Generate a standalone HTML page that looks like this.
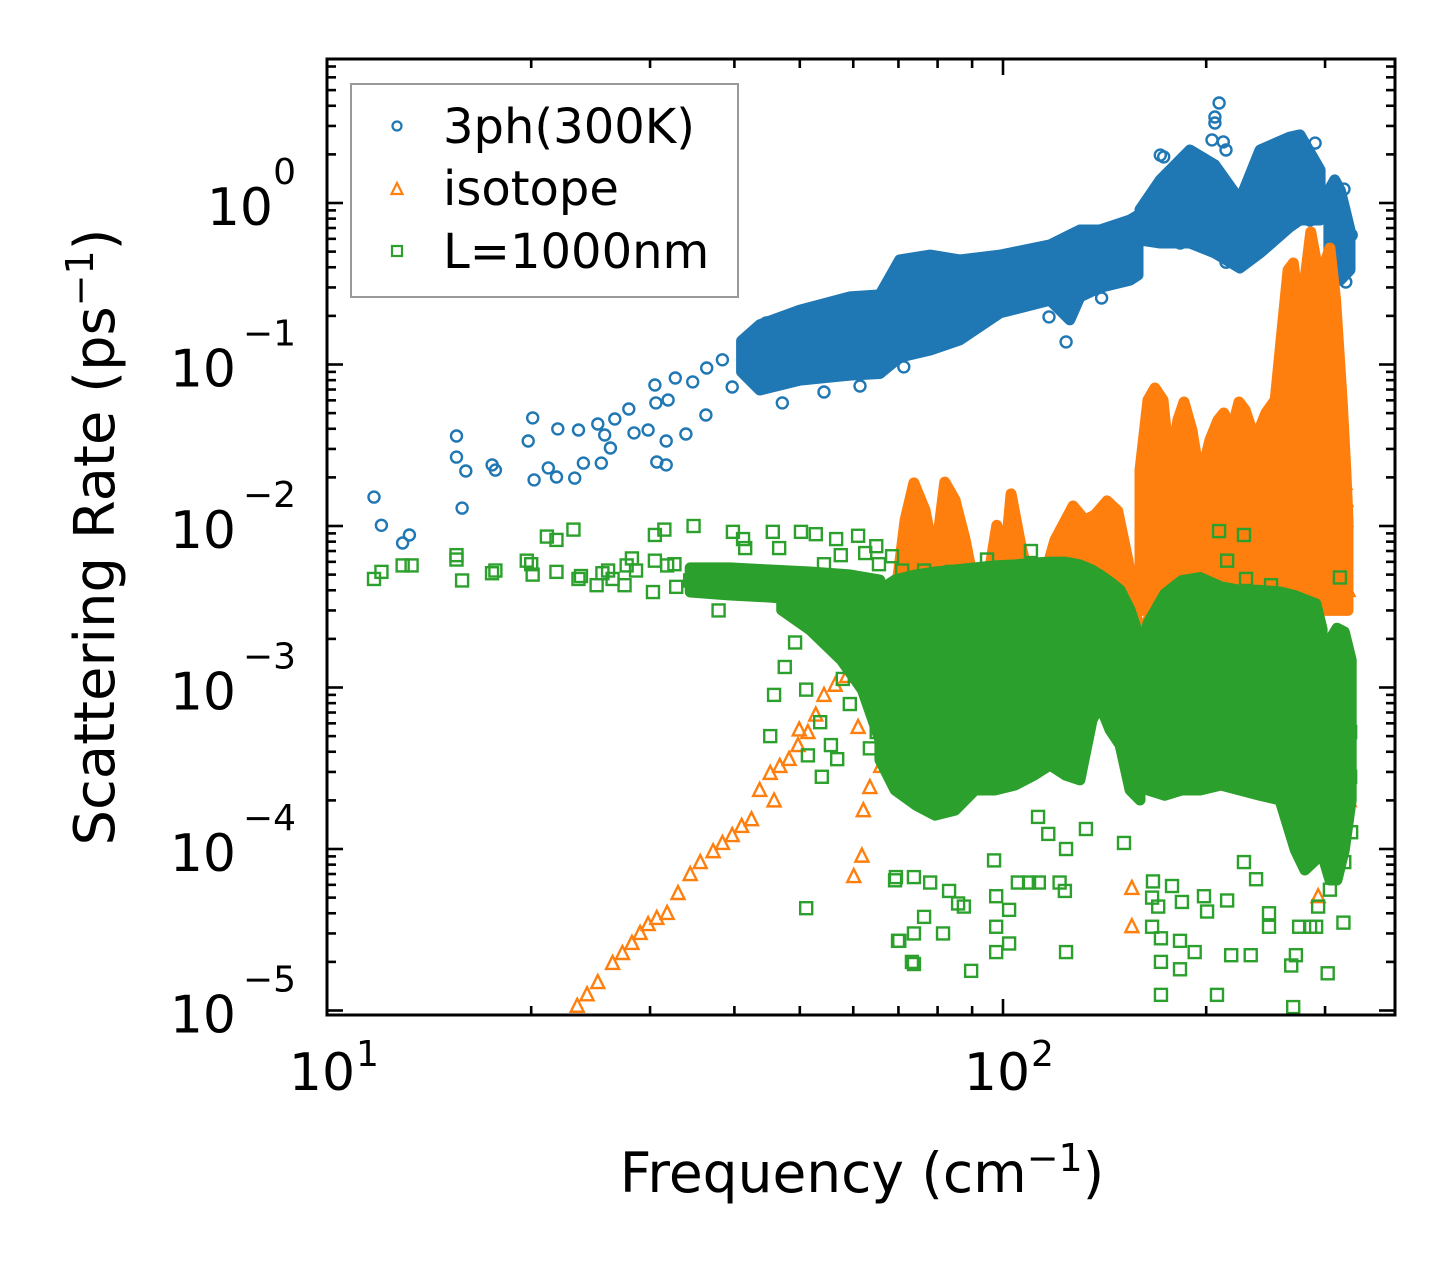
<!DOCTYPE html>
<html><head><meta charset="utf-8"><title>Scattering Rate vs Frequency</title>
<style>html,body{margin:0;padding:0;background:#fff;}svg{display:block;font-family:"DejaVu Sans","Liberation Sans",sans-serif;}</style></head>
<body>
<svg id="chart" width="1455" height="1265" viewBox="0 0 1455 1265" xmlns="http://www.w3.org/2000/svg">
<rect width="1455" height="1265" fill="#fff"/>
<defs><clipPath id="plotclip"><rect x="327" y="59" width="1068" height="956"/></clipPath></defs>
<g id="bands" clip-path="url(#plotclip)"></g>
<g id="axes"></g>
<g id="legend">
<rect x="351" y="84" width="387" height="213" fill="#fff" fill-opacity="0.85" stroke="#999" stroke-width="2"/>
<circle cx="397" cy="126" r="4.5" fill="none" stroke="#1f77b4" stroke-width="2.2"/>
<text x="443" y="143" font-size="48">3ph(300K)</text>
<polygon points="397,183 402.5,194 391.5,194" fill="none" stroke="#ff7f0e" stroke-width="2.2"/>
<text x="443" y="205" font-size="48">isotope</text>
<rect x="392" y="246" width="10" height="10" fill="none" stroke="#2ca02c" stroke-width="2.2"/>
<text x="443" y="268" font-size="48">L=1000nm</text>
</g>
<text x="862" y="1192" font-size="55" text-anchor="middle">Frequency (cm<tspan dy="-21" font-size="38">−1</tspan><tspan dy="21">)</tspan></text>
<text transform="translate(114,537) rotate(-90)" font-size="56" text-anchor="middle">Scattering Rate (ps<tspan dy="-21" font-size="38">−1</tspan><tspan dy="21">)</tspan></text>
</svg>
<script>
// ---- data ----
const xMajorTicks = [10, 100];
const xMinorTicks = [20, 30, 40, 50, 60, 70, 80, 90, 200, 300];
const yMajorExps = [0, -1, -2, -3, -4, -5];

// blue dense envelopes
const blueBand1F = [41,43.6,50,59.3,65.7,70.3,78,86.3,99,117.4,125.6,130,139.2,154.3,158.5];
const blueBand1Hi = [0.14,0.176,0.217,0.262,0.27,0.444,0.476,0.444,0.476,0.55,0.634,0.68,0.68,0.785,0.84];
const blueBand1Lo = [0.09,0.0695,0.08,0.086,0.088,0.111,0.123,0.142,0.209,0.25,0.189,0.262,0.30,0.333,0.358];
const blueBand2F = [159.6,171,189.2,206,224.4,240.3,266,275.4,295];
const blueBand2Hi = [0.91,1.39,2.13,1.72,1.04,2.13,2.56,2.64,1.60];
const blueBand2Lo = [0.59,0.565,0.565,0.49,0.396,0.49,0.71,0.785,0.785];
const blueBand3F = [304,310,316,326.6];
const blueBand3Hi = [1.2,1.39,1.2,0.68];
const blueBand3Lo = [0.358,0.333,0.333,0.385];
const blueScatter = [[11.7,0.0151],[12.0,0.0101],[12.9,0.00785],[13.2,0.0088],[15.5,0.0361],[15.5,0.0267],[16.0,0.0219],[15.8,0.0129],[17.5,0.0239],[17.7,0.0222],[20.1,0.0467],[19.8,0.0336],[20.2,0.0193],[21.2,0.0229],[21.8,0.0201],[21.9,0.0399],[23.2,0.0198],[23.5,0.0393],[23.9,0.0245],[25.1,0.0428],[25.4,0.0245],[25.7,0.0366],[26.2,0.0304],[26.6,0.046],[27.9,0.053],[28.4,0.0377],[29.8,0.0393],[30.5,0.0747],[30.6,0.0578],[30.7,0.0249],[31.7,0.0239],[31.7,0.0336],[31.9,0.0603],[32.7,0.0825],[33.9,0.0371],[34.7,0.078],[36.3,0.0487],[36.4,0.0951],[38.4,0.107],[39.7,0.0726],[41.5,0.123],[44.6,0.181],[47.1,0.0578],[48.9,0.164],[54.3,0.0676],[61.4,0.0736],[71.3,0.0966],[209,4.16],[206,3.41],[206,3.13],[204,2.46],[212,2.39],[214,2.13],[290,2.35],[285,0.785],[183,0.565],[214,0.43],[320,1.22],[328,0.634],[322,0.324],[124,0.138],[117,0.197],[140,0.258],[171,1.98],[173,1.93]];

// orange
const orangeBandAF = [65.7,69.2,71.6,73.8,76.6,79.3,82.0,84.9,87.9,90.9,94.0,97.9,100.7,102.8,105.9,109.6,115.4,119.4,127.0,132.2,136.8,142.6,147.9,153.1,156.9,159.6];
const orangeBandAHi = [0.00148,0.00348,0.0109,0.0185,0.0126,0.00615,0.0187,0.0145,0.00819,0.00402,0.00348,0.0101,0.00615,0.0158,0.00819,0.00431,0.00498,0.00819,0.0133,0.0109,0.0117,0.0143,0.0124,0.00615,0.00348,0.00171];
const orangeBandALo = [0.0009,0.0012,0.0015,0.0017,0.0017,0.0017,0.0017,0.0017,0.0017,0.0017,0.0017,0.0017,0.0017,0.0017,0.0017,0.0017,0.0017,0.0017,0.0017,0.0017,0.0017,0.0017,0.0017,0.0017,0.0017,0.0015];
const orangeBandBF = [159.6,164,167.9,172.6,176.7,181.6,185.4,190.5,195.9,202.6,208.3,212.4,218.3,223.7,228.4,236.3,245.2,253.1,259.1,264.5,269.2,275.4,280.1,285.8,290.8,296.9,301,305,311,318,322,324.4];
const orangeBandBHi = [0.0222,0.0603,0.0715,0.0603,0.0222,0.0453,0.0586,0.0393,0.0193,0.0341,0.0453,0.0501,0.0393,0.0586,0.0523,0.0341,0.0501,0.0603,0.164,0.385,0.425,0.189,0.333,0.661,0.444,0.164,0.444,0.526,0.251,0.0603,0.0222,0.0109];
const orangeBandBLo = [0.003,0.003,0.003,0.003,0.003,0.003,0.003,0.003,0.003,0.003,0.003,0.003,0.003,0.003,0.003,0.003,0.003,0.003,0.003,0.003,0.003,0.003,0.003,0.003,0.003,0.003,0.003,0.003,0.003,0.003,0.003,0.003];
const orangeScatter = [[23.4,1.07e-5],[24.2,1.26e-5],[25.1,1.5e-5],[26.4,1.97e-5],[27.3,2.27e-5],[28.2,2.62e-5],[29.0,3.02e-5],[29.8,3.43e-5],[30.7,3.74e-5],[31.8,4.02e-5],[33.0,5.34e-5],[34.4,7.0e-5],[35.6,8.3e-5],[37.2,9.7e-5],[38.4,1.09e-4],[39.7,1.22e-4],[41.0,1.39e-4],[42.4,1.53e-4],[43.6,2.32e-4],[45.2,2.96e-4],[46.7,3.27e-4],[48.2,3.61e-4],[49.7,4.4e-4],[51.4,5.3e-4],[52.8,6.8e-4],[54.3,9.0e-4],[56.4,1.04e-3],[58.7,1.18e-3],[60.6,1.28e-3],[62.7,1.34e-3],[66.8,1.42e-3],[49.9,5.5e-4],[45.8,2.0e-4],[61.0,5.7e-4],[61.8,9.1e-5],[60.1,6.8e-5],[63.5,2.42e-4],[62.1,1.74e-4],[65.9,3.27e-4],[162.3,5.12e-3],[162.3,2.51e-3],[155.2,5.74e-5],[155.2,3.33e-5],[274.7,4.5e-3],[290.8,4.77e-3],[301,3.53e-3],[324.4,4.02e-3],[325.7,2.01e-4],[293,5.1e-5],[322,1.38e-3],[262.7,6.07e-3],[251.2,6.52e-3],[303,0.0667],[303,0.0351],[321,0.0185],[322,0.0145],[322,0.0109],[290.8,0.0232],[290.8,0.0151],[290.8,0.0106],[274.7,0.0126],[163.4,0.012],[163.4,0.00945]];

// green
const greenBand0F = [34.4,39.4,45.2,51.8,59.3,65.7];
const greenBand0Hi = [0.0055,0.0055,0.00534,0.00519,0.00498,0.00463];
const greenBand0Lo = [0.0039,0.00374,0.00363,0.00348,0.00324,0.00302];
const greenBand1F = [47.0,51.8,57.6,61.9,65.7];
const greenBand1Hi = [0.00402,0.00402,0.00402,0.00402,0.00402];
const greenBand1Lo = [0.00302,0.00227,0.00148,0.000966,0.000473];
const greenBandAF = [65.7,69.2,74.3,79.3,84.9,90.9,97.2,104.2,111.2,117.4,123.8,130,135.5,139.2,144.1,149.1,154.3,159.6];
const greenBandAHi = [0.00402,0.00463,0.00498,0.00519,0.00534,0.0055,0.00566,0.00574,0.0059,0.00598,0.00598,0.00574,0.00534,0.00498,0.0045,0.00402,0.00302,0.00197];
const greenBandALo = [0.000356,0.000232,0.000187,0.000162,0.000174,0.000232,0.000232,0.000249,0.000287,0.000331,0.000287,0.000268,0.00063,0.00078,0.000546,0.000441,0.000232,0.000201];
const greenBandBF = [159.6,164,173.6,184.1,195.9,210.3,224.4,240.3,257.3,271,280.1,290.8,297];
const greenBandBHi = [0.0015,0.0025,0.0038,0.0046,0.0048,0.0042,0.0040,0.0040,0.0039,0.0037,0.0035,0.0033,0.0023];
const greenBandBLo = [0.000441,0.000232,0.000215,0.000232,0.000232,0.000249,0.000232,0.000215,0.000201,0.0000986,0.0000741,0.000086,0.000268];
const greenBandCF = [298.9,305,312.5,320.3,328];
const greenBandCHi = [0.00111,0.00197,0.00233,0.00221,0.00148];
const greenBandCLo = [0.0000855,0.0000643,0.0000643,0.0000986,0.000201];
const greenScatter = [[11.7,0.0047],[12.0,0.0052],[12.9,0.0057],[13.3,0.0057],[15.5,0.0062],[15.5,0.0066],[15.8,0.0046],[17.5,0.0051],[17.7,0.0053],[19.7,0.0061],[20.1,0.005],[20.0,0.0058],[21.1,0.0086],[21.8,0.0082],[21.8,0.0052],[23.1,0.0095],[23.5,0.0047],[23.7,0.0049],[25.0,0.0043],[25.5,0.0051],[26.0,0.0053],[26.4,0.0047],[27.5,0.0043],[27.7,0.0057],[28.2,0.0063],[28.6,0.0053],[30.3,0.0039],[30.5,0.0088],[30.5,0.0061],[31.5,0.0095],[31.8,0.0057],[32.6,0.0058],[32.8,0.0042],[34.4,0.0046],[34.8,0.01],[35.9,0.0041],[37.9,0.003],[39.8,0.0092],[41.2,0.0083],[41.5,0.0073],[45.6,0.0092],[46.6,0.0073],[50.2,0.0092],[52.8,0.0089],[56.6,0.0083],[61.0,0.0087],[64.9,0.0075],[68.5,0.0065],[57.5,0.0066],[54.3,0.0058],[62.5,0.0068],[65.5,0.0058],[49.2,0.0019],[47.5,0.00134],[45.8,0.0009],[45.2,0.0005],[51.1,0.00097],[53.6,0.00061],[51.4,0.00038],[53.9,0.00028],[55.6,0.00044],[56.8,0.00036],[59.3,0.00079],[51.1,4.3e-5],[69.4,6.7e-5],[69.9,2.7e-5],[73.3,2.0e-5],[57.9,0.00113],[65.0,0.00053],[63.5,0.00042],[69.2,6.4e-5],[73.8,6.7e-5],[78.0,6.2e-5],[70.2,2.7e-5],[73.8,3.0e-5],[73.8,1.94e-5],[76.4,3.8e-5],[81.5,3.0e-5],[83.2,5.5e-5],[85.8,4.6e-5],[87.5,4.4e-5],[89.7,1.76e-5],[97.7,5.1e-5],[102.1,4.2e-5],[97.7,3.3e-5],[97.7,2.3e-5],[102.1,2.6e-5],[97.0,8.5e-5],[105.2,6.2e-5],[109.3,6.2e-5],[113.0,6.2e-5],[121.3,6.2e-5],[123.5,5.5e-5],[124,2.3e-5],[124,1.0e-4],[132.7,0.000133],[112.7,0.000158],[116.7,0.000124],[151.1,0.000109],[166.8,6.3e-5],[166.3,5.0e-5],[169.8,4.4e-5],[166.3,3.3e-5],[171.4,2.8e-5],[171.4,2.0e-5],[171.4,1.25e-5],[182.9,1.8e-5],[178,5.9e-5],[184.1,4.7e-5],[182.9,2.7e-5],[192.3,2.3e-5],[198.5,5.1e-5],[200.6,4.1e-5],[207.5,1.25e-5],[214.8,4.8e-5],[217.8,2.2e-5],[227.5,8.3e-5],[232.8,2.2e-5],[237.1,6.5e-5],[247.8,4.0e-5],[247.8,3.3e-5],[269.1,1.05e-5],[271.6,2.2e-5],[267.3,1.9e-5],[274.6,3.3e-5],[285.1,3.3e-5],[291,3.3e-5],[302.7,1.7e-5],[319.4,3.5e-5],[293,4.4e-5],[305,5.6e-5],[327.9,0.000127],[326.8,0.00028],[320.3,8.3e-5],[326.8,0.00053],[315.6,0.0048],[229.1,0.0047],[249.5,0.0043],[227.5,0.0088],[214.8,0.0061],[110,0.007],[70.9,0.0053],[76.4,0.0053],[84.0,0.0052],[94.7,0.0062],[209,0.0093]];

// ---- axes functions ----
const X0 = 328, XDEC = 675, Y0 = 203, YDEC = 161.5;
function xScale(f){ return X0 + XDEC*Math.log10(f/10); }
function yScale(v){ return Y0 - YDEC*Math.log10(v); }
const NS = 'http://www.w3.org/2000/svg';
function mk(tag, attrs, parent){ const e=document.createElementNS(NS,tag); for(const k in attrs) e.setAttribute(k, attrs[k]); parent.appendChild(e); return e; }
const plot = document.getElementById('bands');
const axes = document.getElementById('axes');
const COLORS = {blue:'#1f77b4', orange:'#ff7f0e', green:'#2ca02c'};

function drawBand(F, Hi, Lo, color, name){
  const pts = [];
  for(let i=0;i<F.length;i++) pts.push(xScale(F[i]).toFixed(1)+','+yScale(Hi[i]).toFixed(1));
  for(let i=F.length-1;i>=0;i--) pts.push(xScale(F[i]).toFixed(1)+','+yScale(Lo[i]).toFixed(1));
  const p = mk('polygon', {points:pts.join(' '), fill:color, stroke:color, 'stroke-width':11, 'stroke-linejoin':'round'}, plot);
  
  
}
function drawCircles(data, color, name){
  const g = mk('g', {}, plot);
  
  
  data.forEach(d=>{
    const c = mk('circle', {cx:xScale(d[0]).toFixed(1), cy:yScale(d[1]).toFixed(1), r:5.5, fill:'none', stroke:color, 'stroke-width':2.4}, g);
    
    
  });
}
function drawTriangles(data, color, name){
  const g = mk('g', {}, plot);
  
  
  data.forEach(d=>{
    const x=xScale(d[0]), y=yScale(d[1]);
    const t = mk('polygon', {points:`${x},${y-7} ${x+6.5},${y+6} ${x-6.5},${y+6}`, fill:'none', stroke:color, 'stroke-width':2.4}, g);
    
    
  });
}
function drawSquares(data, color, name){
  const g = mk('g', {}, plot);
  
  
  data.forEach(d=>{
    const x=xScale(d[0]), y=yScale(d[1]);
    const s = mk('rect', {x:x-6, y:y-6, width:12, height:12, fill:'none', stroke:color, 'stroke-width':2.4}, g);
    
    
  });
}

drawBand(blueBand1F, blueBand1Hi, blueBand1Lo, COLORS.blue, 'blue-dense-region-1');
drawBand(blueBand2F, blueBand2Hi, blueBand2Lo, COLORS.blue, 'blue-dense-region-2');
drawBand(blueBand3F, blueBand3Hi, blueBand3Lo, COLORS.blue, 'blue-dense-region-3');
drawCircles(blueScatter, COLORS.blue, 'series-3ph');
drawBand(orangeBandAF, orangeBandAHi, orangeBandALo, COLORS.orange, 'orange-dense-region-1');
drawBand(orangeBandBF, orangeBandBHi, orangeBandBLo, COLORS.orange, 'orange-dense-region-2');
drawTriangles(orangeScatter, COLORS.orange, 'series-isotope');
drawBand(greenBand0F, greenBand0Hi, greenBand0Lo, COLORS.green, 'green-dense-line');
drawBand(greenBand1F, greenBand1Hi, greenBand1Lo, COLORS.green, 'green-dense-fan');
drawBand(greenBandAF, greenBandAHi, greenBandALo, COLORS.green, 'green-dense-region-1');
drawBand(greenBandBF, greenBandBHi, greenBandBLo, COLORS.green, 'green-dense-region-2');
drawBand(greenBandCF, greenBandCHi, greenBandCLo, COLORS.green, 'green-dense-region-3');
drawSquares(greenScatter, COLORS.green, 'series-boundary');

// ---- frame & ticks ----
const L=327, R=1395, T=59, B=1015;
const frame = mk('rect', {x:L, y:T, width:R-L, height:B-T, fill:'none', stroke:'#000', 'stroke-width':3}, axes);


function tick(x1,y1,x2,y2,name){
  const l = mk('line', {x1,y1,x2,y2,stroke:'#000','stroke-width':2.6}, axes);
  
  
}
xMajorTicks.forEach(f=>{ const x=xScale(f); if(x>L+2){ tick(x,B,x,B-16,'x-major-tick'); tick(x,T,x,T+16,'x-major-tick-top'); }});
xMinorTicks.forEach(f=>{ const x=xScale(f); tick(x,B,x,B-9,'x-minor-tick'); tick(x,T,x,T+9,'x-minor-tick-top'); });
for(let e=1;e>=-6;e--){
  const yM = yScale(Math.pow(10,e));
  if(yM>=T && yM<=B){ tick(L,yM,L+16,yM,'y-major-tick'); tick(R,yM,R-16,yM,'y-major-tick-right'); }
  for(let m=2;m<=9;m++){
    const y = yScale(m*Math.pow(10,e));
    if(y>T+1 && y<B-1){ tick(L,y,L+9,y,'y-minor-tick'); tick(R,y,R-9,y,'y-minor-tick-right'); }
  }
}
xMajorTicks.forEach(f=>{
  const x = xScale(f);
  const t = mk('text', {x:x-6, y:1090, 'font-size':52, 'text-anchor':'middle'}, axes);
  
  
  t.textContent = '10';
  const s = mk('text', {x:x+28, y:1066, 'font-size':36}, axes);
  
  
  s.textContent = String(Math.round(Math.log10(f)));
});
yMajorExps.forEach(e=>{
  const y = yScale(Math.pow(10,e));
  const expTxt = e===0 ? '0' : '−'+(-e);
  const t = mk('text', {x:296, y:y-19, 'font-size':36, 'text-anchor':'end'}, axes);
  
  
  t.textContent = expTxt;
  const ew = e===0 ? 23 : 60;
  const b = mk('text', {x:296-ew, y:y+22, 'font-size':52, 'text-anchor':'end'}, axes);
  
  
  b.textContent = '10';
});
</script>
</body></html>
